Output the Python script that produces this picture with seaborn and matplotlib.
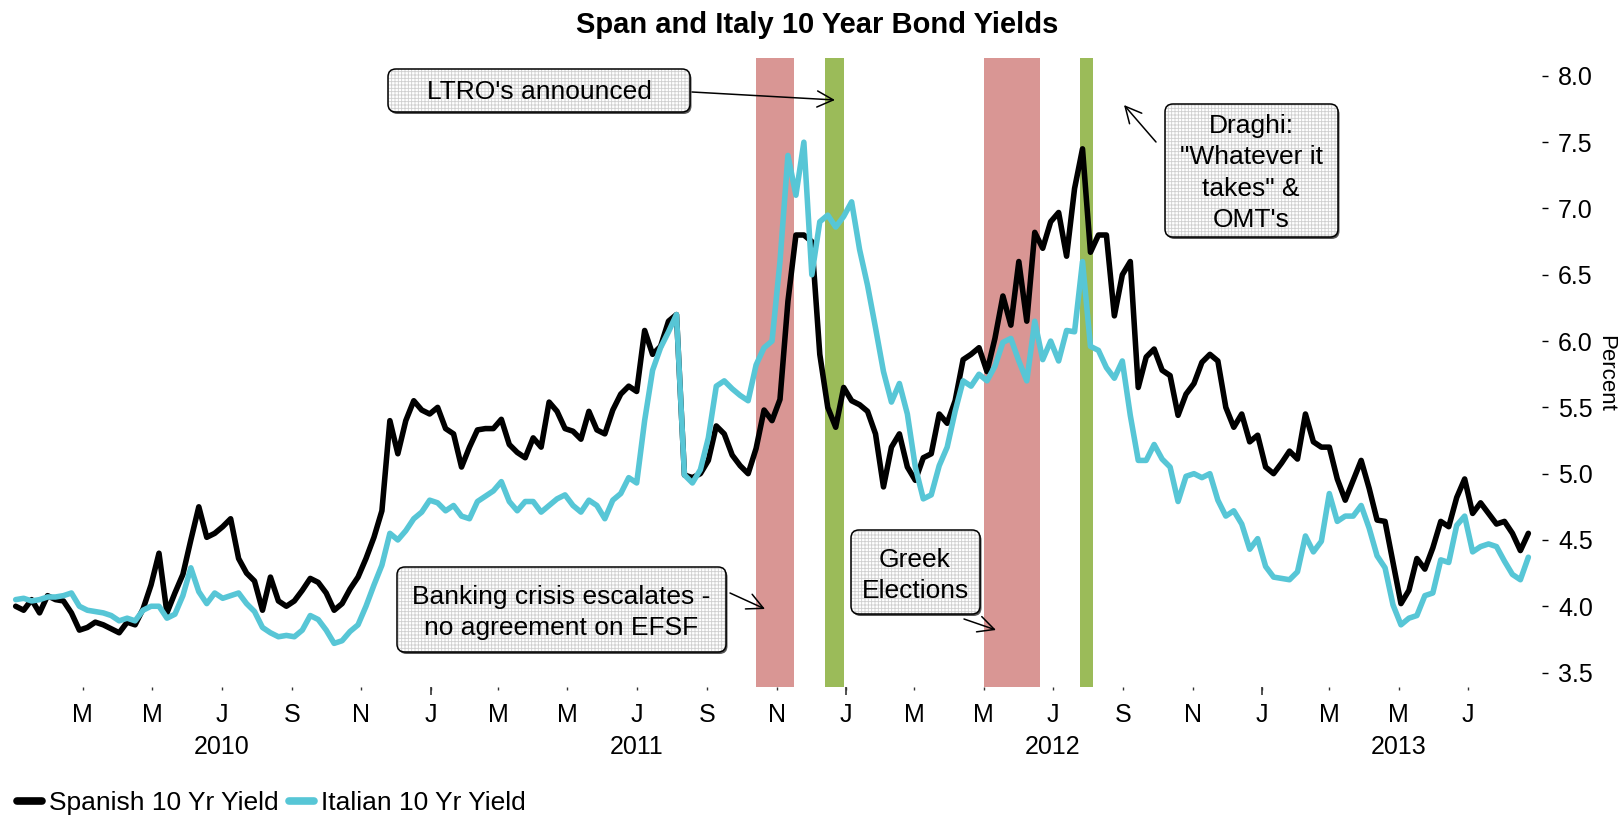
import numpy as np
import pandas as pd
import matplotlib
matplotlib.use("Agg")
import matplotlib.pyplot as plt
import matplotlib.transforms as mtrans
from matplotlib.patches import FancyBboxPatch, FancyArrowPatch
import seaborn as sns

start_date = "2010-01-01"
spain = [
    4.00, 3.97, 4.05, 3.95, 4.08, 4.05, 4.04, 3.95, 3.82, 3.84,
    3.88, 3.86, 3.83, 3.80, 3.88, 3.86, 3.98, 4.16, 4.40, 3.95,
    4.10, 4.24, 4.50, 4.75, 4.52, 4.55, 4.60, 4.66, 4.36, 4.25,
    4.19, 3.97, 4.22, 4.04, 4.00, 4.04, 4.12, 4.21, 4.18, 4.10,
    3.97, 4.02, 4.13, 4.22, 4.36, 4.52, 4.72, 5.40, 5.15, 5.40,
    5.55, 5.48, 5.45, 5.50, 5.34, 5.30, 5.05, 5.20, 5.33, 5.34,
    5.34, 5.41, 5.22, 5.16, 5.12, 5.27, 5.20, 5.54, 5.47, 5.34,
    5.32, 5.26, 5.47, 5.33, 5.30, 5.48, 5.60, 5.66, 5.62, 6.08,
    5.90, 5.96, 6.15, 6.20, 4.99, 4.97, 5.00, 5.10, 5.36, 5.30,
    5.14, 5.06, 5.00, 5.19, 5.48, 5.40, 5.56, 6.30, 6.80, 6.80,
    6.75, 5.90, 5.50, 5.35, 5.65, 5.55, 5.52, 5.47, 5.30, 4.90,
    5.20, 5.30, 5.05, 4.95, 5.12, 5.15, 5.45, 5.38, 5.55, 5.86,
    5.90, 5.95, 5.77, 6.02, 6.34, 6.12, 6.60, 6.15, 6.82, 6.70,
    6.90, 6.97, 6.64, 7.15, 7.45, 6.67, 6.80, 6.80, 6.19, 6.50,
    6.60, 5.65, 5.88, 5.94, 5.78, 5.74, 5.44, 5.60, 5.68, 5.84,
    5.90, 5.85, 5.50, 5.35, 5.45, 5.24, 5.29, 5.05, 5.00, 5.08,
    5.17, 5.11, 5.45, 5.24, 5.20, 5.20, 4.96, 4.80, 4.95, 5.10,
    4.89, 4.65, 4.64, 4.33, 4.02, 4.12, 4.36, 4.28, 4.44, 4.64,
    4.60, 4.82, 4.96, 4.70, 4.78, 4.70, 4.62, 4.64, 4.55, 4.42,
    4.55,
]
italy = [
    4.05, 4.06, 4.04, 4.05, 4.07, 4.07, 4.08, 4.10, 4.00, 3.97,
    3.96, 3.95, 3.93, 3.89, 3.91, 3.89, 3.97, 4.00, 4.00, 3.91,
    3.94, 4.08, 4.29, 4.11, 4.02, 4.10, 4.06, 4.08, 4.10, 4.02,
    3.96, 3.84, 3.80, 3.77, 3.78, 3.77, 3.82, 3.93, 3.90, 3.82,
    3.72, 3.74, 3.81, 3.86, 4.00, 4.16, 4.31, 4.55, 4.50, 4.57,
    4.66, 4.71, 4.80, 4.78, 4.72, 4.76, 4.68, 4.66, 4.79, 4.83,
    4.87, 4.94, 4.79, 4.72, 4.79, 4.79, 4.71, 4.76, 4.81, 4.84,
    4.76, 4.71, 4.80, 4.76, 4.66, 4.80, 4.85, 4.97, 4.93, 5.40,
    5.78, 5.95, 6.07, 6.20, 4.99, 4.93, 5.03, 5.27, 5.66, 5.70,
    5.64, 5.59, 5.55, 5.82, 5.95, 6.00, 6.60, 7.40, 7.10, 7.50,
    6.50, 6.90, 6.95, 6.86, 6.94, 7.05, 6.69, 6.42, 6.10, 5.77,
    5.54, 5.68, 5.45, 5.05, 4.81, 4.84, 5.06, 5.20, 5.47, 5.70,
    5.66, 5.75, 5.70, 5.81, 5.99, 6.02, 5.85, 5.70, 6.15, 5.86,
    6.00, 5.85, 6.08, 6.07, 6.60, 5.96, 5.93, 5.80, 5.72, 5.85,
    5.44, 5.10, 5.10, 5.22, 5.11, 5.05, 4.79, 4.98, 5.00, 4.97,
    5.00, 4.80, 4.68, 4.72, 4.62, 4.43, 4.51, 4.30, 4.22, 4.21,
    4.20, 4.26, 4.53, 4.41, 4.49, 4.85, 4.64, 4.68, 4.68, 4.76,
    4.59, 4.38, 4.29, 4.01, 3.86, 3.91, 3.93, 4.08, 4.10, 4.35,
    4.33, 4.61, 4.68, 4.41, 4.45, 4.47, 4.45, 4.34, 4.24, 4.20,
    4.37,
]
series_names = ["Spanish 10 Yr Yield", "Italian 10 Yr Yield"]
series_colors = ["#000000", "#57C6D6"]

# event shading periods
red_periods = [("2011-10-14", "2011-11-16"), ("2012-05-01", "2012-06-20")]
green_periods = [("2011-12-14", "2011-12-30"), ("2012-07-25", "2012-08-05")]
red_color = "#D99694"
green_color = "#9BBB59"

# axis labels
ytick_values = [3.5, 4.0, 4.5, 5.0, 5.5, 6.0, 6.5, 7.0, 7.5, 8.0]
month_ticks = pd.date_range("2010-03-01", "2013-07-01", freq="2MS")
year_starts = pd.to_datetime(["2011-01-01", "2012-01-01", "2013-01-01"])
year_labels = ["2010", "2011", "2012", "2013"]
year_label_dates = pd.to_datetime(["2010-07-01", "2011-07-01", "2012-07-01", "2013-05-01"])

title = "Span and Italy 10 Year Bond Yields"
annotations = [
    "LTRO's announced",
    "Draghi:\n\"Whatever it\ntakes\" &\nOMT's",
    "Banking crisis escalates -\nno agreement on EFSF",
    "Greek\nElections",
]

# ---------------- build frame ----------------
dates = pd.date_range(start_date, periods=len(spain), freq="7D")
df = pd.DataFrame({"Date": dates, series_names[0]: spain, series_names[1]: italy})
long = df.melt(id_vars="Date", var_name="Series", value_name="Yield")

# ---------------- figure ----------------
W, H = 1623, 818
sns.set_theme(style="white")
plt.rcParams["font.family"] = ["Liberation Sans", "DejaVu Sans"]
plt.rcParams["hatch.linewidth"] = 0.6
plt.rcParams["text.color"] = "black"
plt.rcParams["axes.labelcolor"] = "black"
plt.rcParams["xtick.color"] = "black"
plt.rcParams["ytick.color"] = "black"

fig = plt.figure(figsize=(W / 100, H / 100), dpi=100)


def fx(px):
    return px / W


def fy(py):
    return 1 - py / H


ax = fig.add_axes([fx(10), fy(687), fx(1542) - fx(10), fy(58) - fy(687)])

for s, e in red_periods:
    ax.axvspan(pd.Timestamp(s), pd.Timestamp(e), color=red_color, lw=0, zorder=0)
for s, e in green_periods:
    ax.axvspan(pd.Timestamp(s), pd.Timestamp(e), color=green_color, lw=0, zorder=0)

sns.lineplot(data=long, x="Date", y="Yield", hue="Series", hue_order=series_names,
             palette=dict(zip(series_names, series_colors)), linewidth=4, ax=ax)

handles, labels = ax.get_legend_handles_labels()
if ax.get_legend() is not None:
    ax.get_legend().remove()

ax.set_xlim(pd.Timestamp("2009-12-27"), pd.Timestamp("2013-09-04"))
ax.set_ylim(3.391, 8.135)
ax.set_xlabel("")
ax.set_ylabel("")
for sp in ax.spines.values():
    sp.set_visible(False)
ax.grid(False)

# x axis
ax.set_xticks(month_ticks)
ax.set_xticklabels([d.strftime("%b")[0] for d in month_ticks])
ax.set_xticks(year_starts, minor=True)
ax.xaxis.remove_overlapping_locs = False
ax.tick_params(axis="x", which="major", bottom=True, length=2.5, width=1,
               color="#333333", pad=9, labelsize=18, labelcolor="black")
ax.tick_params(axis="x", which="minor", bottom=True, length=5.5, width=1.2,
               color="#333333")

# y axis on right
ax.yaxis.tick_right()
ax.set_yticks(ytick_values)
ax.set_yticklabels([f"{v:.1f}" for v in ytick_values])
ax.tick_params(axis="y", which="major", right=True, left=False, length=4.5, width=1,
               color="black", pad=7, labelsize=18, labelcolor="black")

# year labels
blend = mtrans.blended_transform_factory(ax.transData, fig.transFigure)
for lab, d in zip(year_labels, year_label_dates):
    ax.text(d, fy(754), lab, transform=blend, ha="center", va="baseline",
            fontsize=18, color="black")

# title and y label
fig.text(fx(817), fy(33), title, ha="center", va="baseline", fontsize=21,
         fontweight="bold", color="black")
fig.text(fx(1606), fy(373), "Percent", rotation=270, ha="center", va="center",
         fontsize=16, color="black")

# legend
leg = fig.legend(handles, labels, loc="center left", bbox_to_anchor=(fx(17), fy(803)),
                 ncol=2, frameon=False, fontsize=19, handlelength=0.95,
                 handletextpad=0.27, columnspacing=0.38, borderpad=0, borderaxespad=0)
for ln in leg.get_lines():
    ln.set_linewidth(5.5)
for t in leg.get_texts():
    t.set_color("black")

# annotation boxes (pixel layout, top-left origin)
inch = fig.dpi_scale_trans


def px2in(x, y):
    return x / 100, (H - y) / 100


def note_box(x0, y0, x1, y1, text, cx, last_baseline):
    bx, by = px2in(x0, y1)
    w, h = (x1 - x0) / 100, (y1 - y0) / 100
    shadow = FancyBboxPatch((bx + 0.015, by - 0.02), w, h,
                            boxstyle="round,pad=0,rounding_size=0.08",
                            facecolor="#555555", edgecolor="none", transform=inch, zorder=5)
    fill = FancyBboxPatch((bx, by), w, h, boxstyle="round,pad=0,rounding_size=0.08",
                          facecolor="white", edgecolor="#CFCFCF", hatch="+++++",
                          lw=0, transform=inch, zorder=6)
    edge = FancyBboxPatch((bx, by), w, h, boxstyle="round,pad=0,rounding_size=0.08",
                          facecolor="none", edgecolor="black", lw=1.1,
                          transform=inch, zorder=7)
    for p in (shadow, fill, edge):
        fig.add_artist(p)
    tx, ty = px2in(cx, last_baseline)
    fig.text(tx, ty, text, transform=inch, ha="center", va="baseline",
             multialignment="center", fontsize=19, linespacing=1.39,
             color="black", zorder=8)


def arrow(x0, y0, x1, y1):
    a = FancyArrowPatch(px2in(x0, y0), px2in(x1, y1), transform=inch,
                        arrowstyle="->,head_length=0.58,head_width=0.29",
                        mutation_scale=20, lw=1.1, color="black",
                        shrinkA=0, shrinkB=0, zorder=8)
    fig.add_artist(a)


note_box(388, 69, 690, 112, annotations[0], 539, 99)
arrow(692, 92, 835, 100)

note_box(1165, 104, 1338, 237, annotations[1], 1251, 227)
arrow(1156, 142, 1124, 105)

note_box(397, 567, 726, 652, annotations[2], 561, 635)
arrow(730, 593, 765, 609)

note_box(851, 530, 980, 614, annotations[3], 915, 598)
arrow(964, 619, 996, 630)

fig.savefig("out.png", dpi=100)
